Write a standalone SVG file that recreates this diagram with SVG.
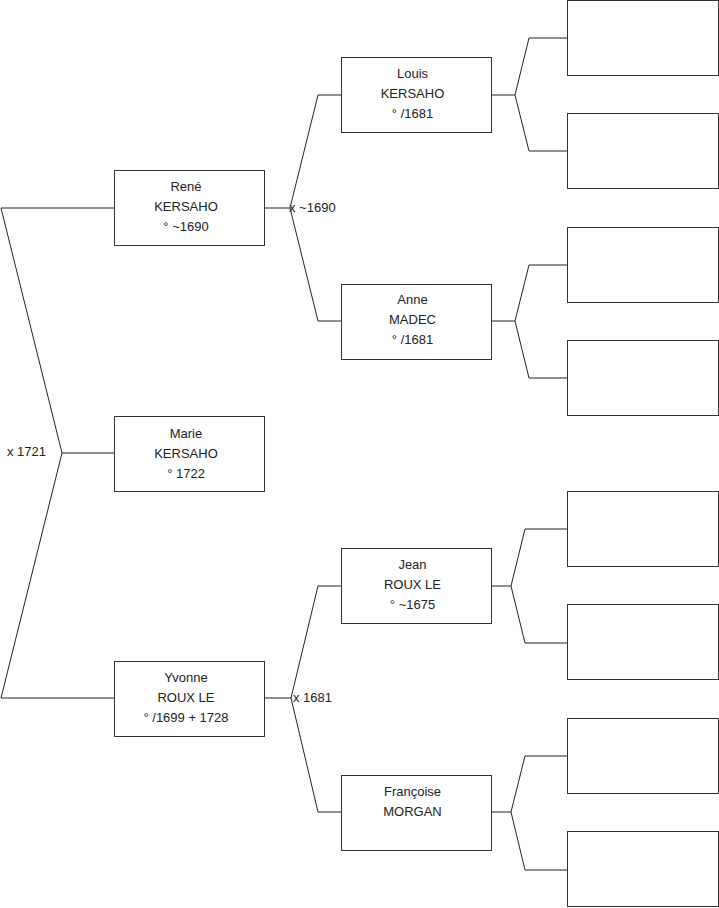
<svg xmlns="http://www.w3.org/2000/svg" width="719" height="908" viewBox="0 0 719 908">
<style>
.box{fill:#fff;stroke:#333;stroke-width:1}
.ln{fill:none;stroke:#222;stroke-width:1}
text{font-family:"Liberation Sans",Arial,sans-serif;font-size:13px;fill:#222;text-anchor:middle;dominant-baseline:central}
.lbl{text-anchor:start}
</style>
<rect width="719" height="908" fill="#fff"/>
<g id="connectors">
<polyline class="ln" points="114,208 1,208 62,453 1,698 114,698"/>
<line class="ln" x1="62" y1="453" x2="114" y2="453"/>
<polyline class="ln" points="341,95 318,95 290,208 318,321 341,321"/>
<line class="ln" x1="265" y1="208" x2="290" y2="208"/>
<polyline class="ln" points="341,586 318,586 291,698 318,812 341,812"/>
<line class="ln" x1="265" y1="698" x2="291" y2="698"/>
<polyline class="ln" points="567,38 529,38 515,95 529,151 567,151"/>
<line class="ln" x1="492" y1="95" x2="515" y2="95"/>
<polyline class="ln" points="567,265 529,265 515,321 529,378 567,378"/>
<line class="ln" x1="492" y1="321" x2="515" y2="321"/>
<polyline class="ln" points="567,529 525,529 511,586 525,643 567,643"/>
<line class="ln" x1="492" y1="586" x2="511" y2="586"/>
<polyline class="ln" points="567,756 525,756 511,812 525,870 567,870"/>
<line class="ln" x1="492" y1="812" x2="511" y2="812"/>
<text class="lbl" x="7" y="451">x 1721</text>
<text class="lbl" x="289" y="207">x ~1690</text>
<text class="lbl" x="293" y="697">x 1681</text>
</g>
<g id="rene"><rect class="box" x="114.5" y="170.5" width="150" height="75"/>
<text x="186" y="186">René</text><text x="186" y="206">KERSAHO</text><text x="186" y="226">° ~1690</text></g>
<g id="marie"><rect class="box" x="114.5" y="416.5" width="150" height="75"/>
<text x="186" y="433">Marie</text><text x="186" y="453">KERSAHO</text><text x="186" y="473">° 1722</text></g>
<g id="yvonne"><rect class="box" x="114.5" y="661.5" width="150" height="75"/>
<text x="186" y="677">Yvonne</text><text x="186" y="697">ROUX LE</text><text x="186" y="717">° /1699 + 1728</text></g>
<g id="louis"><rect class="box" x="341.5" y="57.5" width="150" height="75"/>
<text x="412.5" y="73">Louis</text><text x="412.5" y="93">KERSAHO</text><text x="412.5" y="113">° /1681</text></g>
<g id="anne"><rect class="box" x="341.5" y="284.5" width="150" height="75"/>
<text x="412.5" y="299">Anne</text><text x="412.5" y="319">MADEC</text><text x="412.5" y="339">° /1681</text></g>
<g id="jean"><rect class="box" x="341.5" y="548.5" width="150" height="75"/>
<text x="412.5" y="564">Jean</text><text x="412.5" y="584">ROUX LE</text><text x="412.5" y="604">° ~1675</text></g>
<g id="francoise"><rect class="box" x="341.5" y="775.5" width="150" height="75"/>
<text x="412.5" y="791">Françoise</text><text x="412.5" y="811">MORGAN</text></g>
<g id="p1"><rect class="box" x="567.5" y="0.5" width="151" height="75"/></g>
<g id="p2"><rect class="box" x="567.5" y="113.5" width="151" height="75"/></g>
<g id="p3"><rect class="box" x="567.5" y="227.5" width="151" height="75"/></g>
<g id="p4"><rect class="box" x="567.5" y="340.5" width="151" height="75"/></g>
<g id="p5"><rect class="box" x="567.5" y="491.5" width="151" height="75"/></g>
<g id="p6"><rect class="box" x="567.5" y="604.5" width="151" height="75"/></g>
<g id="p7"><rect class="box" x="567.5" y="718.5" width="151" height="75"/></g>
<g id="p8"><rect class="box" x="567.5" y="831.5" width="151" height="75"/></g>
</svg>
